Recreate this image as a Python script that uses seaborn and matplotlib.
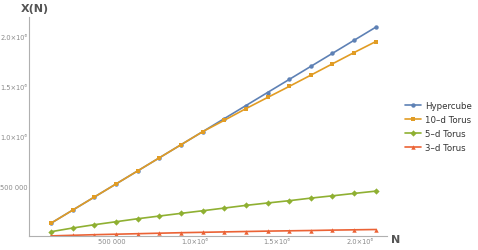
import numpy as np
import pandas as pd
import matplotlib
matplotlib.use("Agg")
import matplotlib.pyplot as plt
import seaborn as sns
from matplotlib.ticker import MultipleLocator, FuncFormatter

# ===============================
# DATA
# ===============================
N = [131072, 262144, 393216, 524288, 655360, 786432, 917504, 1048576,
     1179648, 1310720, 1441792, 1572864, 1703936, 1835008, 1966080, 2097152]

hypercube = [131072, 262144, 393216, 524288, 655360, 786432, 917504, 1048576,
             1179648, 1310720, 1441792, 1572864, 1703936, 1835008, 1966080, 2097152]
torus_10d = [131072, 262144, 393216, 524288, 655360, 786432, 917504, 1048576,
             1163000, 1280000, 1392000, 1503000, 1616000, 1730000, 1843000, 1953000]
torus_5d = [46000, 83000, 116000, 146000, 176000, 203000, 230000, 256000,
            283000, 310000, 334000, 357000, 383000, 406000, 430000, 453000]
torus_3d = [4000, 10000, 16000, 21000, 26000, 31000, 36000, 40000,
            44000, 48000, 52000, 55000, 58000, 62000, 65000, 68000]

SERIES = ["Hypercube", "10\u2013d Torus", "5\u2013d Torus", "3\u2013d Torus"]
COLORS = ["#5E81B5", "#E19C24", "#8FB032", "#EB6235"]
MARKERS = ["o", "s", "D", "^"]

df = pd.concat([
    pd.DataFrame({"N": N, "X": vals, "series": name})
    for name, vals in zip(SERIES, [hypercube, torus_10d, torus_5d, torus_3d])
])

# ===============================
# PLOT
# ===============================
sns.set_style("white")
plt.rcParams["font.family"] = ["DejaVu Sans"]

fig = plt.figure(figsize=(4.78, 2.51), dpi=100)
ax = fig.add_axes([0.0613, 0.0546, 0.748, 0.874])

sns.lineplot(
    data=df, x="N", y="X", hue="series", style="series",
    hue_order=SERIES, style_order=SERIES,
    palette=dict(zip(SERIES, COLORS)),
    markers=dict(zip(SERIES, MARKERS)), dashes=False,
    linewidth=1.2, markersize=3.2, markeredgewidth=0,
    ax=ax,
)

ax.set_xlim(0, 2.164e6)
ax.set_ylim(0, 2.2e6)

for s in ["top", "right"]:
    ax.spines[s].set_visible(False)
for s in ["left", "bottom"]:
    ax.spines[s].set_color("#b0b0b0")
    ax.spines[s].set_linewidth(0.8)

ax.xaxis.set_major_locator(MultipleLocator(500000))
ax.xaxis.set_minor_locator(MultipleLocator(100000))
ax.yaxis.set_major_locator(MultipleLocator(500000))
ax.yaxis.set_minor_locator(MultipleLocator(100000))


def fmt(v, pos):
    if v == 0:
        return ""
    if v < 1e6:
        return "{:,.0f}".format(v).replace(",", " ")
    return "{:.1f}\u00d710\u2076".format(v / 1e6)


ax.xaxis.set_major_formatter(FuncFormatter(fmt))
ax.yaxis.set_major_formatter(FuncFormatter(fmt))
ax.tick_params(which="major", direction="in", length=4, width=0.6,
               color="#b0b0b0", labelsize=4.8, labelcolor="#8a8a8a", pad=1.5)
ax.tick_params(which="minor", direction="in", length=2, width=0.5,
               color="#b0b0b0")
ax.set_xlabel("")
ax.set_ylabel("")

fig.text(0.073, 0.965, "X(N)", fontsize=8, color="#555555",
         fontweight="semibold", ha="center", va="center")
fig.text(0.827, 0.044, "N", fontsize=8, color="#555555",
         fontweight="semibold", ha="center", va="center")

ax.legend(loc="center left", bbox_to_anchor=(1.03, 0.5), frameon=False,
          fontsize=6.2, handlelength=1.8, handletextpad=0.5,
          labelspacing=0.6, labelcolor="#333333")

fig.savefig("out.png", dpi=100)
plt.close()
